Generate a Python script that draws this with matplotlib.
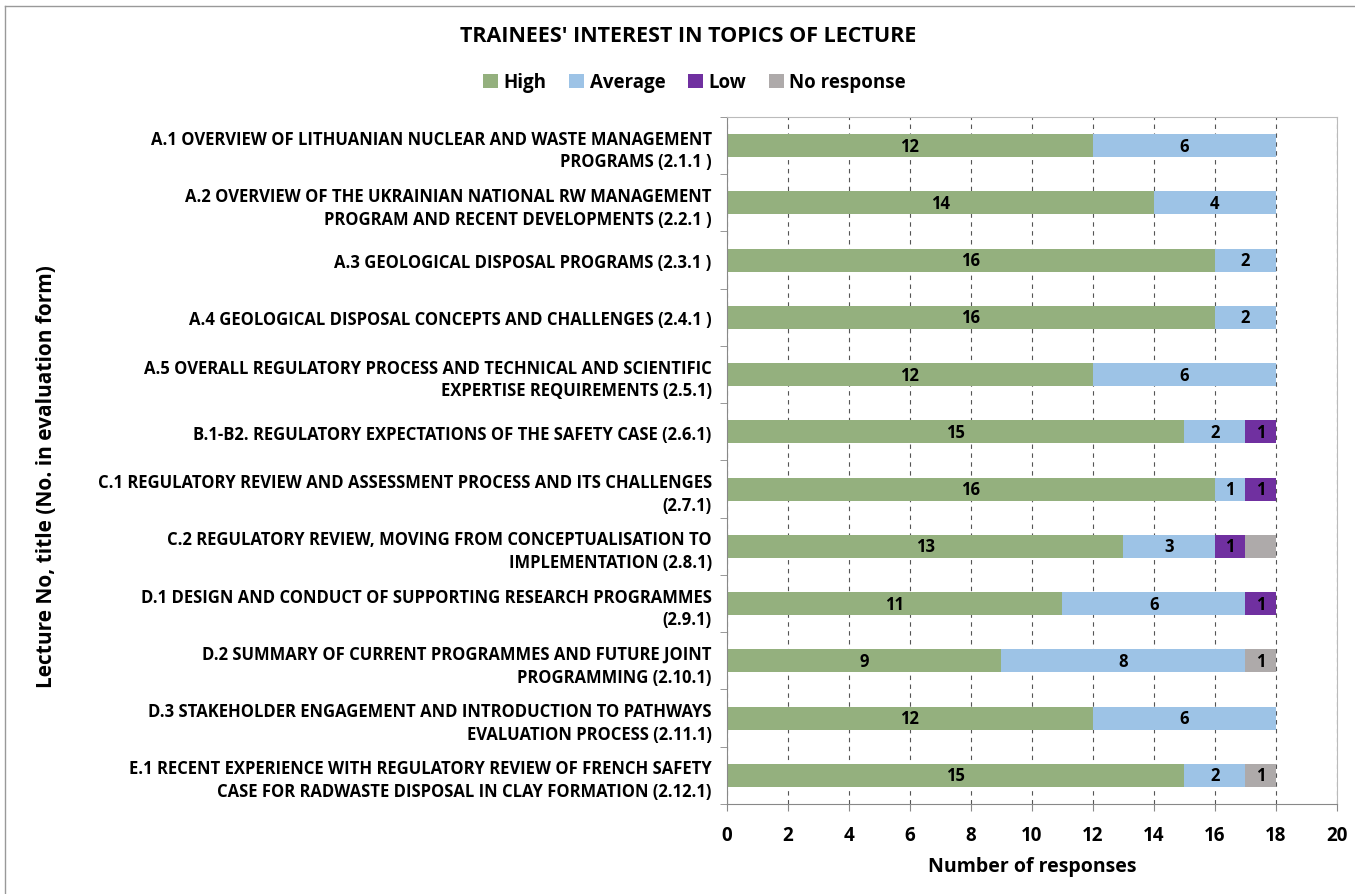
import numpy as np
import matplotlib
matplotlib.use('Agg')
import matplotlib.pyplot as plt
from matplotlib.lines import Line2D

# data
lectures = [
    'A.1 OVERVIEW OF LITHUANIAN NUCLEAR AND WASTE MANAGEMENT\nPROGRAMS (2.1.1 )',
    'A.2 OVERVIEW OF THE UKRAINIAN NATIONAL RW MANAGEMENT\nPROGRAM AND RECENT DEVELOPMENTS (2.2.1 )',
    'A.3 GEOLOGICAL DISPOSAL PROGRAMS (2.3.1 )',
    'A.4 GEOLOGICAL DISPOSAL CONCEPTS AND CHALLENGES (2.4.1 )',
    'A.5 OVERALL REGULATORY PROCESS AND TECHNICAL AND SCIENTIFIC\nEXPERTISE REQUIREMENTS (2.5.1)',
    'B.1-B2. REGULATORY EXPECTATIONS OF THE SAFETY CASE (2.6.1)',
    'C.1 REGULATORY REVIEW AND ASSESSMENT PROCESS AND ITS CHALLENGES\n(2.7.1)',
    'C.2 REGULATORY REVIEW, MOVING FROM CONCEPTUALISATION TO\nIMPLEMENTATION (2.8.1)',
    'D.1 DESIGN AND CONDUCT OF SUPPORTING RESEARCH PROGRAMMES\n(2.9.1)',
    'D.2 SUMMARY OF CURRENT PROGRAMMES AND FUTURE JOINT\nPROGRAMMING (2.10.1)',
    'D.3 STAKEHOLDER ENGAGEMENT AND INTRODUCTION TO PATHWAYS\nEVALUATION PROCESS (2.11.1)',
    'E.1 RECENT EXPERIENCE WITH REGULATORY REVIEW OF FRENCH SAFETY\nCASE FOR RADWASTE DISPOSAL IN CLAY FORMATION (2.12.1)',
]
high = [12, 14, 16, 16, 12, 15, 16, 13, 11, 9, 12, 15]
average = [6, 4, 2, 2, 6, 2, 1, 3, 6, 8, 6, 2]
low = [0, 0, 0, 0, 0, 1, 1, 1, 1, 0, 0, 0]
no_response = [0, 0, 0, 0, 0, 0, 0, 1, 0, 1, 0, 1]
# the C.2 grey segment carries no value label in the original
no_response_labels = ['', '', '', '', '', '', '', '', '', '1', '', '1']

series_names = ['High', 'Average', 'Low', 'No response']
colors = ['#94B07E', '#9DC3E6', '#7030A0', '#AEAAAA']
x_ticks = list(range(0, 21, 2))

plt.rcParams['font.family'] = ['Open Sans', 'DejaVu Sans']
plt.rcParams['font.weight'] = 'bold'

fig = plt.figure(figsize=(13.55, 8.95), dpi=100)
ax = fig.add_axes([0.5365, 0.1006, 0.45, 0.7676])

y = np.arange(len(lectures))
left = np.zeros(len(lectures))
all_series = [high, average, low, no_response]
for i, vals in enumerate(all_series):
    vals = np.array(vals, dtype=float)
    bars = ax.barh(y, vals, left=left, height=0.4, color=colors[i],
                   label=series_names[i], zorder=2)
    if i == 3:
        labs = no_response_labels
    else:
        labs = [str(int(v)) if v > 0 else '' for v in vals]
    ax.bar_label(bars, labels=labs, label_type='center', fontsize=12,
                 fontweight='bold', color='black')
    left += vals

ax.set_xlim(0, 20)
ax.set_ylim(len(lectures) - 0.5, -0.5)
ax.set_xticks(x_ticks)
ax.set_xticklabels([str(t) for t in x_ticks], fontsize=13.5, fontweight='bold')
ax.set_yticks(y)
ax.set_yticklabels(lectures, fontsize=12, fontweight='bold', linespacing=1.35)
ax.set_yticks(np.arange(-0.5, len(lectures)), minor=True)
ax.tick_params(axis='y', which='major', length=0, pad=11)
ax.tick_params(axis='y', which='minor', length=5, color='#888888')
ax.tick_params(axis='x', length=5, color='#888888', pad=10)

ax.grid(axis='x', linestyle=(0, (4, 4)), color='#555555', linewidth=0.8, zorder=1)
ax.set_axisbelow(True)
for side in ['left', 'bottom']:
    ax.spines[side].set_color('#888888')
for side in ['top', 'right']:
    ax.spines[side].set_color('#BBBBBB')

ax.set_xlabel('Number of responses', fontsize=14, fontweight='bold', labelpad=8)
fig.text(0.034, 0.467, 'Lecture No, title (No. in evaluation form)', rotation=90,
         ha='center', va='center', fontsize=15, fontweight='bold')

fig.text(0.508, 0.959, "TRAINEES' INTEREST IN TOPICS OF LECTURE", ha='center',
         va='center', fontsize=15.5, fontweight='bold')
fig.legend(loc='center', bbox_to_anchor=(0.5125, 0.907), ncol=4, frameon=False,
           handlelength=0.8, handleheight=0.8, handletextpad=0.3,
           columnspacing=1.2, prop={'weight': 'bold', 'size': 13.5})

# thin outer chart frame (top and left edges visible)
fig.add_artist(Line2D([0.004, 1.0], [0.992, 0.992], color='#999999', linewidth=1))
fig.add_artist(Line2D([0.004, 0.004], [0.0, 0.992], color='#999999', linewidth=1))

fig.savefig('out.png', dpi=100)
